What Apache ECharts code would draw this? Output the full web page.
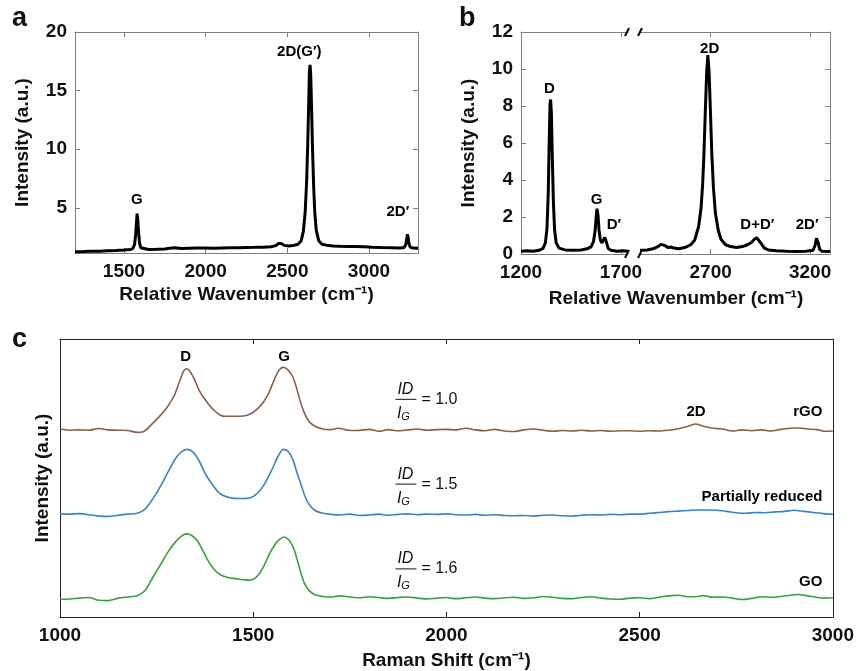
<!DOCTYPE html>
<html>
<head>
<meta charset="utf-8">
<script src="https://cdn.jsdelivr.net/npm/echarts@6/dist/echarts.min.js"></script>
<style>
  html, body { margin: 0; padding: 0; background: #fff; }
  #main { width: 857px; height: 671px; }
</style>
</head>
<body>
<div id="main"></div>
<script>
// Raman spectra, three panels (a, b, c)
var FONT = 'Liberation Sans, Arial, Helvetica, sans-serif';

// panel a: single-layer graphene
var specA = [
  [1200,1.25],[1250,1.27],[1300,1.3],[1350,1.3],[1400,1.35],[1450,1.37],[1500,1.4],[1540,1.45],
  [1555,1.55],[1565,1.9],[1572,2.8],[1577,3.9],[1580,4.5],[1584,4.1],[1589,3.0],[1595,2.0],
  [1603,1.6],[1615,1.48],[1650,1.45],[1700,1.47],[1750,1.5],[1790,1.58],[1810,1.6],[1850,1.53],
  [1900,1.55],[1950,1.57],[2000,1.58],[2050,1.56],[2100,1.58],[2150,1.6],[2200,1.6],[2250,1.62],
  [2300,1.63],[2350,1.65],[2400,1.68],[2430,1.78],[2445,1.95],[2455,2.08],[2465,1.95],[2480,1.8],
  [2510,1.75],[2540,1.8],[2565,1.9],[2585,2.2],[2598,3.0],[2609,4.6],[2618,7.2],[2625,10.5],
  [2631,14],[2635,16.6],[2639,17.2],[2643,16.4],[2648,13.8],[2654,10.2],[2661,6.9],[2668,4.6],
  [2677,3.1],[2692,2.2],[2712,1.9],[2740,1.82],[2780,1.75],[2820,1.72],
  [2870,1.7],[2920,1.7],[2970,1.68],[3020,1.65],[3080,1.62],[3140,1.6],[3190,1.58],[3215,1.62],
  [3225,1.85],[3231,2.35],[3235,2.75],[3239,2.5],[3244,2.0],[3252,1.65],[3270,1.57],[3300,1.55]
];
var labelsA = [[1578, 5.7, 'G'], [2573, 18.3, '2D(G′)'], [3177, 4.7, '2D′']];
var aXTicks = [1500, 2000, 2500, 3000];
var aYTicks = [5, 10, 15, 20];

// panel b: defective graphene, broken x axis
var specBLow = [
  [1200,0.15],[1230,0.18],[1260,0.15],[1290,0.2],[1310,0.3],[1322,0.6],[1330,1.4],[1336,3.2],
  [1341,6],[1345,8.1],[1348,8.35],[1352,7.6],[1357,5],[1362,2.8],[1368,1.3],[1376,0.6],
  [1390,0.32],[1420,0.22],[1460,0.2],[1500,0.22],[1530,0.28],[1550,0.38],[1562,0.65],[1570,1.2],
  [1576,2.0],[1580,2.45],[1585,2.1],[1590,1.3],[1597,0.75],[1605,0.6],[1613,0.7],[1619,0.9],
  [1623,0.88],[1628,0.6],[1636,0.3],[1650,0.2],[1680,0.15],[1710,0.18],[1735,0.15]
];
var specBHigh = [
  [2345,0.2],[2380,0.22],[2410,0.28],[2435,0.4],[2450,0.52],[2460,0.56],[2472,0.45],[2485,0.35],
  [2500,0.38],[2515,0.32],[2540,0.28],[2570,0.35],[2600,0.5],[2620,0.75],[2640,1.5],[2652,2.5],
  [2660,3.8],[2666,5.3],[2673,7.6],[2680,9.8],[2686,10.75],[2692,9.9],[2699,7.7],[2706,5.4],
  [2714,3.6],[2724,2.2],[2738,1.3],[2752,0.8],[2775,0.5],[2800,0.4],[2830,0.35],[2860,0.4],
  [2885,0.5],[2905,0.62],[2920,0.8],[2932,0.88],[2942,0.8],[2955,0.55],[2970,0.32],[2990,0.22],
  [3030,0.18],[3080,0.15],[3130,0.14],[3180,0.15],[3215,0.2],[3226,0.5],[3232,0.85],[3236,0.9],
  [3241,0.6],[3248,0.25],[3260,0.15],[3300,0.14]
];
var labelsBLow = [[1342, 8.9, 'D'], [1578, 2.9, 'G'], [1665, 1.57, 'D′']];
var labelsBHigh = [[2695, 11.1, '2D'], [2935, 1.57, 'D+D′'], [3185, 1.57, '2D′']];
var bLowTicks = [1200, 1700];
var bHighTicks = [2700, 3200];
var bYTicks = [0, 2, 4, 6, 8, 10, 12];

// panel c: GO, partially reduced, rGO (stacked, arbitrary offsets)
var rGO = [
  [1000,67.6],[1025,67.2],[1050,67.3],[1075,67.2],[1100,67.8],[1125,67.3],[1150,67.2],[1175,67.1],
  [1200,66.4],[1215,66.6],[1235,69],[1255,71.8],[1275,75],[1295,79.5],[1310,85],[1320,88.5],
  [1327,89.3],[1335,88.6],[1348,85.5],[1360,81.5],[1375,78.3],[1395,74.8],[1415,72.6],[1430,72.2],
  [1450,72.2],[1475,72.3],[1495,73.2],[1510,74.8],[1525,77],[1540,80.5],[1555,85.5],[1567,88.8],
  [1578,89.8],[1590,88.9],[1602,86.5],[1612,82.5],[1622,77.5],[1632,73.5],[1645,70.2],[1660,68.6],
  [1680,67.6],[1700,67.4],[1720,67.9],[1745,67.2],[1770,67.1],[1800,67.5],[1825,66.8],[1850,67.4],
  [1875,67.0],[1900,67.3],[1925,67.6],[1950,67.2],[1975,67.4],[2000,67.5],[2025,67.3],[2050,67.9],
  [2075,67.3],[2100,67.0],[2125,67.5],[2150,66.9],[2175,66.7],[2200,67.3],[2225,67.6],[2250,67.2],
  [2275,66.8],[2300,67.1],[2325,66.9],[2350,67.2],[2375,66.9],[2400,67.1],[2425,66.8],[2450,67.0],
  [2475,67.0],[2500,66.8],[2525,67.0],[2550,66.9],[2575,67.2],[2600,67.7],[2625,68.6],[2645,69.4],
  [2665,68.6],[2690,67.9],[2715,67.6],[2740,66.9],[2765,67.3],[2790,67.0],[2815,67.3],[2840,66.9],
  [2865,67.5],[2890,67.9],[2910,68.0],[2935,67.6],[2960,67.4],[2980,66.8],[3000,66.9]
];
var partial = [
  [1000,37.1],[1025,37.0],[1050,37.2],[1075,36.8],[1100,36.3],[1125,36.2],[1150,36.6],[1175,37.0],
  [1200,37.3],[1220,38.8],[1240,42.5],[1260,47],[1280,52.3],[1300,57.2],[1315,59.5],[1330,60.3],
  [1345,59.2],[1360,56.2],[1375,51.8],[1395,47.5],[1415,44.3],[1440,42.9],[1465,42.6],[1490,42.8],
  [1510,44.4],[1530,48],[1550,53.5],[1565,58],[1578,60.3],[1590,59.6],[1603,56.5],[1613,52],
  [1623,48],[1635,43],[1645,40.5],[1660,38.3],[1680,37.3],[1700,36.9],[1725,36.7],[1750,37.0],
  [1775,36.5],[1800,36.7],[1825,37.0],[1850,36.6],[1875,36.9],[1900,37.1],[1925,36.8],[1950,37.0],
  [1975,36.9],[2000,37.1],[2025,36.8],[2050,36.7],[2075,36.9],[2100,36.6],[2125,36.8],[2150,36.5],
  [2175,36.4],[2200,36.5],[2225,36.3],[2250,36.6],[2275,36.7],[2300,36.4],[2325,36.3],[2350,36.6],
  [2375,36.8],[2400,36.7],[2425,36.9],[2450,36.8],[2475,37.0],[2500,37.0],[2525,37.3],[2550,37.6],
  [2575,37.9],[2600,38.1],[2625,38.3],[2650,38.5],[2675,38.5],[2700,38.4],[2725,38.0],[2750,37.5],
  [2775,37.3],[2800,37.6],[2825,37.5],[2850,37.8],[2875,38.0],[2900,38.4],[2925,38.0],[2950,37.6],
  [2975,37.2],[3000,36.9]
];
var GO = [
  [1000,6.4],[1025,6.5],[1050,6.8],[1075,7.0],[1100,6.0],[1125,5.9],[1150,6.8],[1175,7.2],
  [1200,7.6],[1220,9.5],[1240,14.2],[1260,18.8],[1280,23.5],[1300,27.2],[1315,29.2],[1327,29.9],
  [1340,29.4],[1355,27.5],[1370,23.8],[1385,19.8],[1400,16.9],[1415,15.2],[1435,14.2],[1455,13.8],
  [1475,13.4],[1490,13.2],[1505,14.0],[1518,16.0],[1530,19.0],[1543,23.0],[1557,26.2],[1568,27.9],
  [1580,28.8],[1592,27.8],[1603,25.2],[1612,21.5],[1622,16.5],[1632,12.3],[1645,9.5],[1660,8.0],
  [1680,7.4],[1700,7.2],[1725,7.6],[1750,7.2],[1775,6.9],[1800,7.3],[1825,7.0],[1850,6.7],
  [1875,7.0],[1900,7.2],[1925,6.8],[1950,6.5],[1975,6.8],[2000,7.0],[2025,6.6],[2050,6.9],
  [2075,7.2],[2100,6.8],[2125,6.6],[2150,6.9],[2175,7.1],[2200,6.7],[2225,6.9],[2250,7.4],
  [2275,7.1],[2300,6.7],[2325,6.6],[2350,7.0],[2375,7.3],[2400,6.8],[2425,6.5],[2450,6.4],
  [2475,6.8],[2500,6.9],[2525,6.6],[2550,7.1],[2575,7.6],[2600,7.8],[2625,7.3],[2650,7.4],
  [2665,7.7],[2690,7.1],[2715,7.2],[2740,6.8],[2765,6.3],[2790,6.7],[2815,7.3],[2840,7.1],
  [2865,7.4],[2890,7.8],[2910,8.1],[2935,7.6],[2960,7.0],[2980,6.8],[3000,6.9]
];
var labelsC = [
  [1325, 93.5, 'D', 'center'], [1580, 93.5, 'G', 'center'], [2646, 73.7, '2D', 'center'],
  [2973, 73.7, 'rGO', 'right'], [2973, 43.2, 'Partially reduced', 'right'], [2973, 12.6, 'GO', 'right']
];
var cXTicks = [1500, 2000, 2500];
var cXLabels = [1000, 1500, 2000, 2500, 3000];
var ratioText = ['1.0', '1.5', '1.6'];
var ratioY = [78.3, 47.8, 17.3];
var ratioX = 1868;

var gray = '#7f7f7f';
var dark = '#222';
var plain = function (v) { return String(v); };

function xAxes(grid, min, max, ticks, labels, color, name, gap) {
  var line = { show: true, onZero: false, lineStyle: { color: color, width: 1 } };
  var tick = { show: true, inside: true, length: 5, customValues: ticks, lineStyle: { color: color } };
  return [{
    gridIndex: grid, type: 'value', min: min, max: max, position: 'bottom',
    splitLine: { show: false }, axisLine: line, axisTick: tick,
    axisLabel: { customValues: labels, formatter: plain, color: '#111', fontSize: 19, fontWeight: 'bold', fontFamily: FONT, margin: 9 },
    name: name, nameLocation: 'middle', nameGap: gap,
    nameTextStyle: { color: '#111', fontSize: 19, fontWeight: 'bold', fontFamily: FONT }
  }, {
    gridIndex: grid, type: 'value', min: min, max: max, position: 'top',
    splitLine: { show: false }, axisLine: line, axisTick: tick, axisLabel: { show: false }
  }];
}

function yAxis(grid, min, max, ticks, color, pos, labels, name, gap) {
  return {
    gridIndex: grid, type: 'value', min: min, max: max, position: pos,
    splitLine: { show: false },
    axisLine: { show: true, onZero: false, lineStyle: { color: color, width: 1 } },
    axisTick: { show: ticks != null, inside: true, length: 5, customValues: ticks || [], lineStyle: { color: color } },
    axisLabel: { show: labels, customValues: ticks || [], formatter: plain, color: '#111', fontSize: 19, fontWeight: 'bold', fontFamily: FONT, margin: 8 },
    name: name || '', nameLocation: 'middle', nameGap: gap || 0,
    nameTextStyle: { color: '#111', fontSize: 19, fontWeight: 'bold', fontFamily: FONT }
  };
}

function curve(data, xi, yi, color, w, smooth) {
  return {
    type: 'line', xAxisIndex: xi, yAxisIndex: yi, data: data, showSymbol: false, silent: true,
    smooth: smooth || false, lineStyle: { color: color, width: w }, z: 3
  };
}

function tags(list, xi, yi) {
  return {
    type: 'scatter', xAxisIndex: xi, yAxisIndex: yi, symbolSize: 0, silent: true, z: 5,
    itemStyle: { color: '#000', opacity: 1 },
    data: list.map(function (d) {
      return { name: d[2], value: [d[0], d[1]], label: { align: d[3] || 'center' } };
    }),
    label: {
      show: true, position: 'inside', formatter: '{b}', color: '#000', opacity: 1,
      textBorderWidth: 0, fontSize: 15, fontWeight: 'bold', fontFamily: FONT, verticalAlign: 'middle'
    }
  };
}

var chart = echarts.init(document.getElementById('main'), null, { renderer: 'canvas' });

var option = {
  backgroundColor: '#fff',
  animation: false,
  grid: [
    { left: 75, top: 32, width: 343, height: 221 },
    { left: 521, top: 32, width: 107, height: 222 },
    { left: 640, top: 32, width: 190, height: 222 },
    { left: 60, top: 339, width: 774, height: 278 }
  ],
  xAxis: [].concat(
    xAxes(0, 1200, 3300, aXTicks, aXTicks, gray, 'Relative Wavenumber (cm⁻¹)', 32),
    xAxes(1, 1200, 1735, bLowTicks, bLowTicks, gray, '', 0),
    xAxes(2, 2345, 3300, bHighTicks, bHighTicks, gray, '', 0),
    xAxes(3, 1000, 3000, cXTicks, cXLabels, dark, 'Raman Shift (cm⁻¹)', 34)
  ),
  yAxis: [
    yAxis(0, 1.15, 20, aYTicks, gray, 'left', true, 'Intensity (a.u.)', 43),
    yAxis(0, 1.15, 20, aYTicks, gray, 'right', false),
    yAxis(1, 0, 12, bYTicks, gray, 'left', true, 'Intensity (a.u.)', 43),
    yAxis(2, 0, 12, bYTicks, gray, 'right', false),
    yAxis(3, 0, 100, null, dark, 'left', false, 'Intensity (a.u.)', 8),
    yAxis(3, 0, 100, null, dark, 'right', false)
  ],
  series: [
    curve(specA, 0, 0, '#000', 3),
    tags(labelsA, 0, 0),
    curve(specBLow, 2, 2, '#000', 3),
    tags(labelsBLow, 2, 2),
    curve(specBHigh, 4, 3, '#000', 3),
    tags(labelsBHigh, 4, 3),
    curve(rGO, 6, 4, '#8a5f4d', 1.6, 0.3),
    curve(partial, 6, 4, '#3a84c4', 1.6, 0.3),
    curve(GO, 6, 4, '#37a23b', 1.6, 0.3),
    tags(labelsC, 6, 4)
  ]
};
chart.setOption(option);

// decorations: panel letters, broken-axis marks, shared x title for b, ID/IG ratios
var gfx = [];
[['a', 12, 5], ['b', 459, 5], ['c', 12, 326]].forEach(function (p) {
  gfx.push({ type: 'text', x: p[1], y: p[2], style: { text: p[0], font: 'bold 27px ' + FONT, fill: '#111' } });
});

var xl = chart.convertToPixel({ xAxisIndex: 2 }, 1735);
var xr = chart.convertToPixel({ xAxisIndex: 4 }, 2345);
var yt = chart.convertToPixel({ yAxisIndex: 2 }, 12);
var yb = chart.convertToPixel({ yAxisIndex: 2 }, 0);
[xl - 1, xr].forEach(function (sx) {
  [yt, yb].forEach(function (sy) {
    gfx.push({ type: 'line', shape: { x1: sx - 2, y1: sy + 4, x2: sx + 2, y2: sy - 4 },
      style: { stroke: '#000', lineWidth: 2 }, z: 10 });
  });
});
gfx.push({ type: 'text', x: (xl + xr) / 2 + 42, y: yb + 45,
  style: { text: 'Relative Wavenumber (cm⁻¹)', font: 'bold 19px ' + FONT, fill: '#111', align: 'center', verticalAlign: 'middle' } });

ratioText.forEach(function (t, i) {
  var p = chart.convertToPixel({ xAxisIndex: 6, yAxisIndex: 4 }, [ratioX, ratioY[i]]);
  var X = p[0], Y = p[1];
  gfx.push({ type: 'text', x: X + 10, y: Y - 10,
    style: { text: 'ID', font: 'italic 16px ' + FONT, fill: '#111', align: 'center', verticalAlign: 'middle' } });
  gfx.push({ type: 'line', shape: { x1: X, y1: Y, x2: X + 21, y2: Y }, style: { stroke: '#111', lineWidth: 1 } });
  gfx.push({ type: 'text', x: X + 8, y: Y + 14,
    style: { text: '{i|I}{g|G}', align: 'center', verticalAlign: 'middle', fill: '#111',
      rich: {
        i: { font: 'italic 16px ' + FONT, lineHeight: 18, verticalAlign: 'middle' },
        g: { font: 'italic 11px ' + FONT, lineHeight: 10, verticalAlign: 'bottom', padding: [6, 0, 0, 0] }
      } } });
  gfx.push({ type: 'text', x: X + 26, y: Y,
    style: { text: '= ' + t, font: '16px ' + FONT, fill: '#111', verticalAlign: 'middle' } });
});

chart.setOption({ graphic: gfx });
</script>
</body>
</html>
